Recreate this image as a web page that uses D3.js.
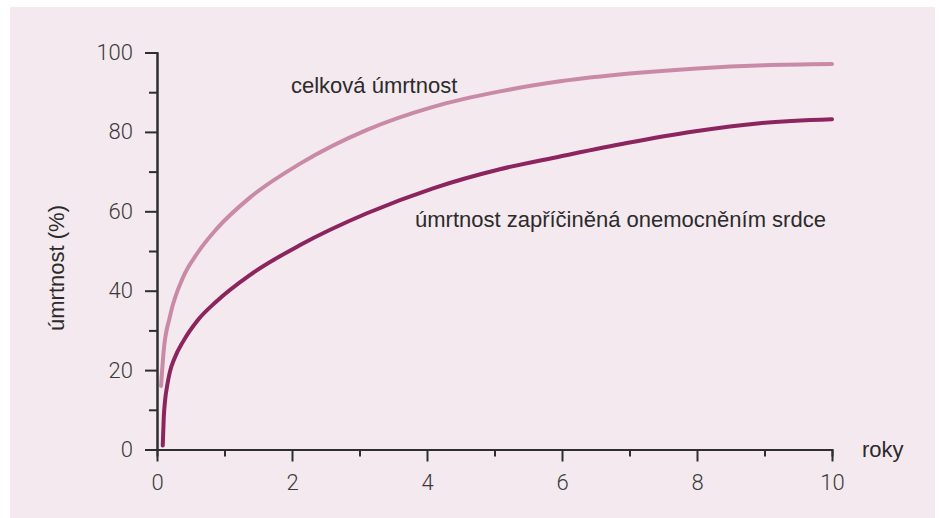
<!DOCTYPE html>
<html>
<head>
<meta charset="utf-8">
<script src="https://cdn.jsdelivr.net/npm/d3@7"></script>
<style>
  body { margin: 0; background: #fff; }
  svg { display: block; }
  .lbl { font-family: "Liberation Sans", Arial, sans-serif; font-size: 22px; fill: #2b2b2b; }
  .tick text { font-family: Roboto, "Liberation Sans", sans-serif; font-weight: 300; font-size: 22px; fill: #3a3a3a; }
</style>
</head>
<body>
<div id="chart"></div>
<script>
/* Data */

// celková úmrtnost
var totalYears = [0.06, 0.1, 0.19, 0.39, 0.6, 0.88, 1.38, 2.12, 3.11, 4.09, 5.08, 6, 7, 8, 9, 10];
var totalValues = [16, 25, 33.4, 43.5, 49.5, 55.5, 63.5, 72, 80.5, 86.3, 90.2, 92.8, 94.7, 96, 96.8, 97.1];

// úmrtnost zapříčiněná onemocněním srdce
var cardiacYears = [0.085, 0.1, 0.12, 0.15, 0.19, 0.26, 0.39, 0.6, 0.88, 1.38, 2.12, 3.11, 4.09, 5.08, 5.97, 6.96, 7.95, 8.93, 10];
var cardiacValues = [1, 8, 12.4, 16, 19.5, 23, 27.3, 32.5, 37.3, 44, 51.5, 59.5, 65.8, 70.6, 73.8, 77.2, 80.1, 82.2, 83.2];

var xTicks = [0, 2, 4, 6, 8, 10];
var xMinorTicks = [1, 3, 5, 7, 9];
var yTicks = [0, 20, 40, 60, 80, 100];
var yMinorTicks = [10, 30, 50, 70, 90];

var width = 940,
	height = 518;

var svg = d3.select("#chart").append("svg")
	.attr("width", width)
	.attr("height", height);

// pink panel
svg.append("rect")
	.attr("x", 10).attr("y", 7)
	.attr("width", 925).attr("height", 511)
	.attr("fill", "#f4e9ee");

var x = d3.scaleLinear().domain([0, 10]).range([157, 832]);
var y = d3.scaleLinear().domain([0, 100]).range([449.5, 52.5]);

/* ------- AXES ------- */
var axisColor = "#2e2e2e";

function styleAxis(g) {
	g.select(".domain").attr("stroke", axisColor).attr("stroke-width", 2);
	g.selectAll(".tick line").attr("stroke", axisColor).attr("stroke-width", 2);
}

svg.append("g")
	.attr("transform", "translate(0," + y(0) + ")")
	.call(d3.axisBottom(x).tickValues(xMinorTicks).tickSize(7).tickFormat(""))
	.call(styleAxis);
svg.append("g")
	.attr("transform", "translate(0," + y(0) + ")")
	.call(d3.axisBottom(x).tickValues(xTicks).tickSize(12).tickSizeOuter(0).tickPadding(13))
	.call(styleAxis);

svg.append("g")
	.attr("transform", "translate(" + x(0) + ",0)")
	.call(d3.axisLeft(y).tickValues(yMinorTicks).tickSize(8).tickFormat(""))
	.call(styleAxis);
svg.append("g")
	.attr("transform", "translate(" + x(0) + ",0)")
	.call(d3.axisLeft(y).tickValues(yTicks).tickSize(12).tickSizeOuter(0).tickPadding(12))
	.call(styleAxis);

// let the css set the tick font
svg.selectAll(".tick text").attr("font-family", null).attr("font-size", null);

/* ------- CURVES ------- */
var line = d3.line()
	.x(function(d) { return x(d[0]); })
	.y(function(d) { return y(d[1]); })
	.curve(d3.curveMonotoneX);

svg.append("path")
	.datum(d3.zip(totalYears, totalValues))
	.attr("d", line)
	.attr("fill", "none")
	.attr("stroke", "#c98aa8")
	.attr("stroke-width", 4)
	.attr("stroke-linecap", "round");

svg.append("path")
	.datum(d3.zip(cardiacYears, cardiacValues))
	.attr("d", line)
	.attr("fill", "none")
	.attr("stroke", "#8c245e")
	.attr("stroke-width", 4)
	.attr("stroke-linecap", "round");

/* ------- LABELS ------- */
svg.append("text").attr("class", "lbl")
	.attr("x", 291).attr("y", 93)
	.text("celková úmrtnost");

svg.append("text").attr("class", "lbl")
	.attr("x", 415).attr("y", 227)
	.text("úmrtnost zapříčiněná onemocněním srdce");

svg.append("text").attr("class", "lbl")
	.attr("x", 862).attr("y", 457)
	.text("roky");

svg.append("text").attr("class", "lbl")
	.attr("transform", "translate(64,268) rotate(-90)")
	.attr("text-anchor", "middle")
	.text("úmrtnost (%)");
</script>
</body>
</html>
